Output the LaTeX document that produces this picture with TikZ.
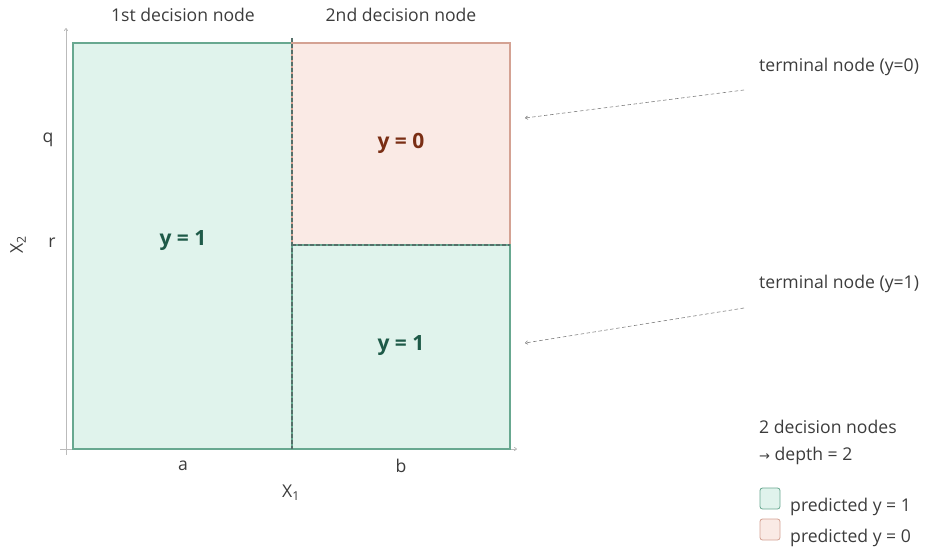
\documentclass[tikz,border=0pt]{standalone}
\usepackage{fontspec}
\setmainfont{Open Sans}
\newfontfamily\symfont{DejaVu Sans}
\usetikzlibrary{arrows.meta,positioning}

\definecolor{leafgreen}{HTML}{E0F3EC}
\definecolor{edgegreen}{HTML}{68A890}
\definecolor{leafred}{HTML}{FAEAE5}
\definecolor{edgered}{HTML}{D4A293}
\definecolor{textgray}{HTML}{3C3C3C}
\definecolor{axisgray}{HTML}{BBBBBB}
\definecolor{splitgray}{HTML}{55706A}
\definecolor{darkgreen}{HTML}{1E5A48}
\definecolor{darkred}{HTML}{7A2E14}

\tikzset{
  lbl/.style={font=\fontsize{17.6}{19}\selectfont, text=textgray, inner sep=1pt},
  leaflbl/.style={font=\fontsize{21}{23}\selectfont\bfseries, inner sep=1pt},
  splitline/.style={dashed, dash pattern=on 4pt off 2pt, draw=splitgray, line width=1.3pt},
  pointer/.style={dashed, dash pattern=on 3.5pt off 2.5pt, draw=black!50, line width=0.6pt, -{To[length=3pt,width=4pt]}}
}

\begin{document}
\begin{tikzpicture}[x=1pt, y=-1pt]
\useasboundingbox (0,0) rectangle (925,551);

% Axes
\draw [axisgray, line width=0.8pt, -{To[length=3pt,width=4pt]}] (66,455) -- (66,28);
\draw [axisgray, line width=0.8pt, -{To[length=3pt,width=4pt]}] (60,449) -- (517,449);

% Regions (leaves)
\draw [fill=leafgreen, draw=edgegreen, line width=1.1pt] (73,43) rectangle (292,449);
\draw [fill=leafred, draw=edgered, line width=1.1pt] (292,43) rectangle (510,245);
\draw [fill=leafgreen, draw=edgegreen, line width=1.1pt] (292,245) rectangle (510,449);

% Split lines
\draw [splitline] (292,38) -- (292,449);
\draw [splitline] (292,245) -- (510,245);

% Headers
\node (first) at (183,15) [lbl] {1st decision node};
\node (second) at (401,15) [lbl] {2nd decision node};

% Leaf labels
\node (leafA) at (183,241) [leaflbl, text=darkgreen] {y = 1};
\node (leafB) at (401,143) [leaflbl, text=darkred] {y = 0};
\node (leafC) at (401,346) [leaflbl, text=darkgreen] {y = 1};

% Axis labels
\node (q) at (48,140) [lbl] {q};
\node (r) at (52,243) [lbl] {r};
\node (xtwo) at (18,245) [lbl, rotate=90] {X\textsubscript{2}};
\node (a) at (183,466) [lbl] {a};
\node (b) at (401,466) [lbl] {b};
\node (xone) at (291,493) [lbl] {X\textsubscript{1}};

% Terminal node annotations
\node (termzero) at (758,67) [lbl, anchor=west] {terminal node (y=0)};
\node (termone) at (758,284) [lbl, anchor=west] {terminal node (y=1)};
\coordinate (tzstart) at (744,90);
\coordinate (tzend) at (525,118);
\coordinate (tostart) at (744,308);
\coordinate (toend) at (525,343);
\draw [pointer] (tzstart) -- (tzend);
\draw [pointer] (tostart) -- (toend);

% Depth note
\node (note) at (758,427) [lbl, anchor=west] {2 decision nodes};
\node (depth) at (758,456) [lbl, anchor=west] {{\symfont\fontsize{13}{15}\selectfont →} depth = 2};

% Legend
\draw [fill=leafgreen, draw=edgegreen, line width=0.8pt, rounded corners=2.5pt] (760,488) rectangle (780,509);
\node (leggreen) at (789,507) [lbl, anchor=west] {predicted y = 1};
\draw [fill=leafred, draw=edgered, line width=0.8pt, rounded corners=2.5pt] (760,519) rectangle (780,540);
\node (legred) at (789,538) [lbl, anchor=west] {predicted y = 0};

\end{tikzpicture}
\end{document}
